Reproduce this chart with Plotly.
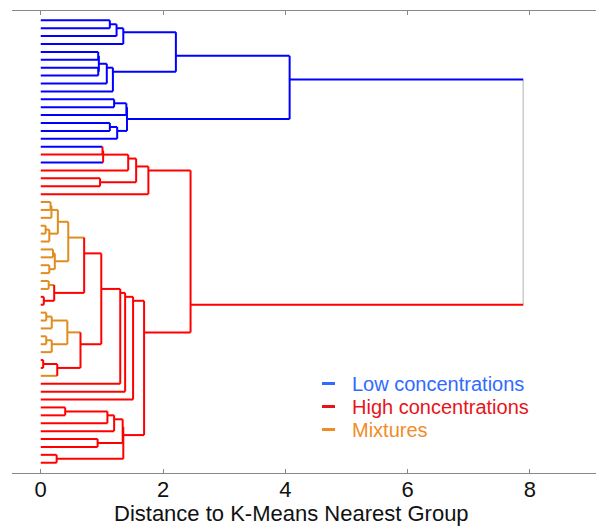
import plotly.graph_objects as go

# ---------------- data ----------------
# class of every leaf, top to bottom: L = low concentration, H = high concentration, M = mixture
leaf_class = (["L"] * 16
              + ["L", "H", "L", "H", "H", "H", "H"]
              + ["M"] * 12 + ["H", "H"]
              + ["M"] * 6 + ["H", "H", "M"]
              + ["H"] * 11)

# sub-trees as [left, right, merge distance]; integers are leaf indices
cluster_A = [[[0, 1, 1.13], 2, 1.24], 3, 1.35]
cluster_B = [[[[4, 5, 0.94], [6, 7, 0.94], 0.95], 8, 1.08], 9, 1.18]
cluster_C = [[[10, 11, 1.20], 12, 1.40], [[13, 14, 1.13], 15, 1.25], 1.41]
low_group = [[cluster_A, cluster_B, 2.21], cluster_C, 4.07]

cluster_D = [[[[[16, 17, 1.01], 18, 1.02], 19, 1.43], [20, 21, 0.97], 1.56], 22, 1.76]
mix_1a = [[[[23, 24, 0.16], 25, 0.175], [[26, 27, 0.08], 28, 0.14], 0.28],
          [[29, 30, 0.20], [31, 32, 0.14], 0.23], 0.45]
mix_1b = [[33, 34, 0.13], [35, 36, 0.05], 0.22]
mix_2a = [[[37, 38, 0.09], 39, 0.18], [[40, 41, 0.09], 42, 0.18], 0.435]
mix_2b = [[43, 44, 0.04], 45, 0.27]
mix_group = [[mix_1a, mix_1b, 0.71], [mix_2a, mix_2b, 0.65], 0.99]
chain_G = [[[mix_group, 46, 1.30], 47, 1.38], 48, 1.51]
cluster_F = [[[[[49, 50, 0.40], 51, 1.09], 52, 1.20], [53, 54, 0.93], 1.34], [55, 56, 0.26], 1.35]
high_group = [cluster_D, [chain_G, cluster_F, 1.69], 2.45]
root_height = 7.89

x_ticks = [0, 2, 4, 6, 8]
x_title = "Distance to K-Means Nearest Group"
legend_labels = ["Low concentrations", "High concentrations", "Mixtures"]
legend_classes = ["L", "H", "M"]

# ---------------- styles ----------------
line_colors = {"L": "#0000ff", "H": "#ff0000", "M": "#e08c1e", "root": "#cccccc"}
text_colors = {"L": "#2f6bff", "H": "#e8141b", "M": "#f08c28"}

segments = {k: ([], []) for k in line_colors}


def add_seg(cls, x0, x1, y0, y1):
    xs, ys = segments[cls]
    xs += [x0, x1, None]
    ys += [y0, y1, None]


def walk(node):
    """returns (y, height, class, min_leaf, max_leaf)"""
    if isinstance(node, int):
        return (node, 0.0, leaf_class[node], node, node)
    left = walk(node[0])
    right = walk(node[1])
    h = node[2]
    cls = left[2] if left[2] == right[2] else "H"
    lo, hi = min(left[3], right[3]), max(left[4], right[4])
    y = (lo + hi) / 2
    add_seg(left[2], left[1], h, left[0], left[0])
    add_seg(right[2], right[1], h, right[0], right[0])
    add_seg(cls, h, h, left[0], right[0])
    return (y, h, cls, lo, hi)


low = walk(low_group)
high = walk(high_group)
add_seg(low[2], low[1], root_height, low[0], low[0])
add_seg(high[2], high[1], root_height, high[0], high[0])
add_seg("root", root_height, root_height, low[0], high[0])

fig = go.Figure()
for cls in ["root", "L", "M", "H"]:
    xs, ys = segments[cls]
    fig.add_trace(go.Scatter(x=xs, y=ys, mode="lines",
                             line=dict(color=line_colors[cls], width=1.5 if cls == "root" else 2),
                             hoverinfo="skip", showlegend=False))

W, H = 596, 527
ml, mr, mt, mb = 12, 0, 11, 54
pw, ph = W - ml - mr, H - mt - mb


def px_x(p):
    return (p - ml) / pw


def px_y(p):
    return (H - mb - p) / ph


# legend (keys + coloured labels)
legend_rows = [383.5, 406.5, 429.5]
for lab, cls, yy in zip(legend_labels, legend_classes, legend_rows):
    fig.add_shape(type="line", xref="paper", yref="paper",
                  x0=px_x(322), x1=px_x(335), y0=px_y(yy), y1=px_y(yy),
                  line=dict(color=text_colors[cls], width=3))
    fig.add_annotation(xref="paper", yref="paper", x=px_x(350), y=px_y(yy),
                       xanchor="left", yanchor="middle", showarrow=False,
                       text=lab, font=dict(size=20, color=text_colors[cls],
                                           family="Liberation Sans, Arial, sans-serif"))

fig.add_annotation(xref="paper", yref="paper", x=px_x(291), y=px_y(513),
                   xanchor="center", yanchor="middle", showarrow=False,
                   text=x_title, font=dict(size=22, color="#111111"))

fig.update_layout(width=W, height=H, margin=dict(l=ml, r=mr, t=mt, b=mb),
                  plot_bgcolor="white", paper_bgcolor="white", showlegend=False,
                  font=dict(family="Liberation Sans, Arial, sans-serif", size=22, color="#111111"))
fig.update_xaxes(range=[-0.47, 9.08], tickvals=x_ticks, ticks="inside", ticklen=4,
                 tickcolor="#888888", showline=True, linecolor="#888888", linewidth=1,
                 mirror="ticks", showgrid=False, zeroline=False, ticklabelstandoff=-3)
fig.update_yaxes(range=[57.3, -1.18], visible=False, showgrid=False, zeroline=False)

fig.write_html("out.html")
